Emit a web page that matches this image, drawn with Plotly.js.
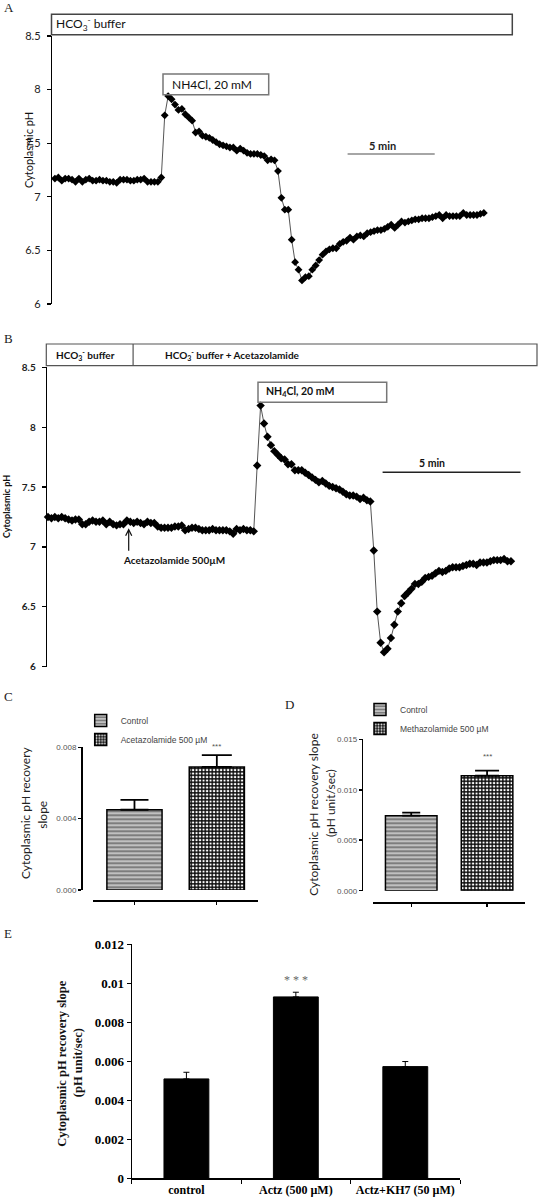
<!DOCTYPE html>
<html><head><meta charset="utf-8">
<script src="https://cdn.plot.ly/plotly-3.0.1.min.js"></script>
<style>html,body{margin:0;padding:0;background:#fff;}#chart{width:538px;height:1201px;}</style>
</head><body><div id="chart"></div>
<script>
// ---------- DATA ----------
// Panel A: cytoplasmic pH trace (HCO3- buffer), one sample per point
const phA = [7.17,7.18,7.15,7.17,7.17,7.16,7.14,7.17,7.14,7.16,7.17,7.15,7.15,7.16,7.15,7.15,7.14,7.14,7.13,7.16,7.16,7.16,7.15,7.15,7.16,7.16,7.17,7.14,7.14,7.14,7.14,7.18,
  7.76,7.94,7.91,7.86,7.81,7.82,7.77,7.74,7.71,7.60,7.61,7.57,7.56,7.55,7.53,7.51,7.49,7.48,7.47,7.46,7.46,7.43,7.45,7.43,7.41,7.40,7.40,7.40,7.39,7.38,7.34,7.35,7.34,
  7.24,6.99,6.88,6.88,6.60,6.39,6.32,6.22,6.25,6.26,6.32,6.36,6.41,6.46,6.49,6.51,6.52,6.52,6.56,6.58,6.59,6.62,6.60,6.63,6.64,6.63,6.66,6.67,6.68,6.69,6.69,6.70,6.72,6.74,6.71,6.74,6.77,6.76,6.77,6.78,6.79,6.79,6.80,6.80,6.80,6.81,6.82,6.83,6.80,6.83,6.82,6.82,6.82,6.82,6.85,6.83,6.83,6.83,6.83,6.84,6.85];
// Panel B: cytoplasmic pH trace (HCO3- buffer + Acetazolamide)
const phB = [7.25,7.24,7.25,7.24,7.25,7.24,7.23,7.22,7.23,7.23,7.19,7.19,7.21,7.22,7.21,7.21,7.22,7.19,7.21,7.19,7.18,7.19,7.19,7.22,7.21,7.20,7.21,7.20,7.19,7.21,7.20,7.20,7.17,7.16,7.16,7.16,7.16,7.17,7.17,7.18,7.14,7.15,7.16,7.16,7.15,7.14,7.14,7.14,7.15,7.14,7.14,7.14,7.14,7.13,7.11,7.15,7.14,7.15,7.14,7.14,7.13,
  7.68,8.18,8.03,7.92,7.85,7.80,7.77,7.74,7.73,7.69,7.69,7.64,7.64,7.64,7.62,7.60,7.58,7.56,7.54,7.55,7.53,7.51,7.50,7.49,7.48,7.46,7.44,7.43,7.43,7.42,7.40,7.41,7.39,7.38,
  6.97,6.46,6.20,6.12,6.15,6.24,6.35,6.46,6.53,6.59,6.62,6.65,6.69,6.69,6.71,6.74,6.75,6.76,6.78,6.80,6.79,6.80,6.82,6.83,6.83,6.83,6.84,6.85,6.86,6.86,6.85,6.87,6.87,6.87,6.88,6.89,6.89,6.89,6.90,6.88,6.88];
const phTicks = [6, 6.5, 7, 7.5, 8, 8.5];
// Panel C
const catsC = ['Control', 'Acetazolamide 500 µM'];
const valC = [0.0045, 0.0069];
const errC = [0.00055, 0.00066];
// Panel D
const catsD = ['Control', 'Methazolamide 500 µM'];
const valD = [0.00743, 0.01139];
const errD = [0.0003, 0.0005];
// Panel E
const catsE = ['control', 'Actz (500 µM)', 'Actz+KH7 (50 µM)'];
const valE = [0.00509, 0.00929, 0.00572];
const errE = [0.00034, 0.00024, 0.00026];
const errLowE = [0, 0, 0];

// ---------- LAYOUT HELPERS ----------
const W = 538, H = 1201;
const px = x => x / W, py = y => 1 - y / H;
const CAL = 'Lato';
const ann = (x, y, text, o = {}) => Object.assign({xref:'paper', yref:'paper', x:px(x), y:py(y), text, showarrow:false,
  xanchor:'left', yanchor:'middle', font:{family:CAL, size:11, color:'#111'}}, o);
const rect = (x0, y0, x1, y1, color, w) => ({type:'rect', xref:'paper', yref:'paper', x0:px(x0), x1:px(x1), y0:py(y1), y1:py(y0),
  line:{color, width:w}, fillcolor:'rgba(0,0,0,0)'});
const seg = (x0, y0, x1, y1, color, w) => ({type:'line', xref:'paper', yref:'paper', x0:px(x0), x1:px(x1), y0:py(y0), y1:py(y1),
  line:{color, width:w}});

const patCtrl = {shape:'-', fillmode:'replace', bgcolor:'#7d7d7d', fgcolor:'#eeeeee', size:4, solidity:0.3};
const patDrug = {shape:'.', fillmode:'replace', bgcolor:'#111111', fgcolor:'#ffffff', size:3.5, solidity:0.35};

const traces = [
  {type:'scatter', mode:'lines+markers', y:phA, xaxis:'x', yaxis:'y', showlegend:false, cliponaxis:false,
   line:{color:'#555', width:1}, marker:{symbol:'diamond', size:6, color:'#000'}},
  {type:'scatter', mode:'lines+markers', y:phB, xaxis:'x2', yaxis:'y2', showlegend:false, cliponaxis:false,
   line:{color:'#555', width:1}, marker:{symbol:'diamond', size:6.5, color:'#000'}},
  {type:'bar', x:[catsC[0]], y:[valC[0]], name:catsC[0], xaxis:'x3', yaxis:'y3', legend:'legend', width:0.67,
   marker:{color:'#7d7d7d', line:{color:'#000', width:1.5}, pattern:patCtrl},
   error_y:{type:'data', symmetric:false, array:[errC[0]], arrayminus:[0], color:'#000', thickness:1.8, width:14}},
  {type:'bar', x:[catsC[1]], y:[valC[1]], name:catsC[1], xaxis:'x3', yaxis:'y3', legend:'legend', width:0.67,
   marker:{color:'#111111', line:{color:'#000', width:1.5}, pattern:patDrug},
   error_y:{type:'data', symmetric:false, array:[errC[1]], arrayminus:[0], color:'#000', thickness:1.8, width:15}},
  {type:'bar', x:[catsD[0]], y:[valD[0]], name:catsD[0], xaxis:'x4', yaxis:'y4', legend:'legend2', width:0.68,
   marker:{color:'#7d7d7d', line:{color:'#000', width:1.5}, pattern:patCtrl},
   error_y:{type:'data', symmetric:false, array:[errD[0]], arrayminus:[0], color:'#000', thickness:1.8, width:9}},
  {type:'bar', x:[catsD[1]], y:[valD[1]], name:catsD[1], xaxis:'x4', yaxis:'y4', legend:'legend2', width:0.68,
   marker:{color:'#111111', line:{color:'#000', width:1.5}, pattern:patDrug},
   error_y:{type:'data', symmetric:false, array:[errD[1]], arrayminus:[0], color:'#000', thickness:1.8, width:12}},
  {type:'bar', x:catsE, y:valE, xaxis:'x5', yaxis:'y5', showlegend:false, width:0.41,
   marker:{color:'#000', line:{color:'#000', width:1}},
   error_y:{type:'data', symmetric:false, array:errE, arrayminus:errLowE, color:'#000', thickness:1, width:3}}
];

const noAx = {visible:false, showgrid:false, zeroline:false};
const phAxis = (dom, fontOpt) => ({domain:dom, range:[6, 8.5], tickvals:phTicks, showgrid:false, zeroline:false,
  showline:true, linecolor:'#000', linewidth:1.5, ticks:'outside', ticklen:4, tickwidth:1.2, tickcolor:'#000',
  tickfont:fontOpt, ticklabelstandoff:4});
const smallTick = {family:'Liberation Sans', size:8, color:'#555'};
const barY = (dom, pos, rng, dt) => ({domain:dom, range:rng, dtick:dt, tick0:0, tickformat:'.3f', anchor:'free', position:pos,
  showgrid:false, zeroline:false, showline:true, linecolor:'#000', linewidth:1.5, ticks:'outside', ticklen:3,
  tickwidth:1.5, tickcolor:'#000', tickfont:smallTick});
const barX = (dom, pos) => ({domain:dom, type:'category', range:[-0.5, 1.5], anchor:'free', position:pos,
  showgrid:false, zeroline:false, showline:true, linecolor:'#000', linewidth:1.5, ticks:'outside', ticklen:3,
  tickwidth:1.2, tickcolor:'#000', showticklabels:false});

const layout = {
  width:W, height:H, margin:{l:0, r:0, t:0, b:0}, paper_bgcolor:'#fff', plot_bgcolor:'rgba(0,0,0,0)',
  barmode:'overlay', showlegend:true, hovermode:false,
  xaxis:Object.assign({domain:[px(52.3), px(512)], range:[-0.76, 133.2]}, noAx),
  yaxis:Object.assign(phAxis([py(304), py(36)], {family:CAL, size:11, color:'#222'}), {anchor:'x'}),
  xaxis2:Object.assign({domain:[px(47.3), px(537)], range:[-0.2, 142.6]}, noAx),
  yaxis2:Object.assign(phAxis([py(666.7), py(367.3)], {family:CAL, size:10, color:'#222', weight:'bold'}), {anchor:'x2'}),
  xaxis3:barX([px(93.3), px(258)], py(900)),
  yaxis3:barY([py(890), py(747.3)], px(81), [0, 0.008], 0.004),
  xaxis4:barX([px(373.3), px(525)], py(902)),
  yaxis4:barY([py(890.7), py(739.3)], px(361.7), [0, 0.015], 0.005),
  xaxis5:{domain:[px(131.7), px(460)], anchor:'y5', type:'category', showgrid:false, zeroline:false, showline:true,
    linecolor:'#000', linewidth:1.2, ticks:'outside', tickson:'boundaries', ticklen:4, tickcolor:'#000',
    tickangle:0, automargin:false,
    tickfont:{family:'Liberation Serif', size:12, color:'#000', weight:'bold'}},
  yaxis5:{domain:[py(1178.3), py(944)], anchor:'x5', range:[0, 0.012], dtick:0.002, showgrid:false, zeroline:false,
    showline:true, linecolor:'#000', linewidth:1.2, ticks:'outside', ticklen:4, tickcolor:'#000',
    tickfont:{family:'Liberation Serif', size:13, color:'#000', weight:'bold'}},
  legend:{x:px(80.7), y:py(706), xanchor:'left', yanchor:'top', bgcolor:'rgba(0,0,0,0)', itemwidth:30,
    font:{family:'Liberation Sans', size:8.5, color:'#444'}, tracegroupgap:0},
  legend2:{x:px(360), y:py(695), xanchor:'left', yanchor:'top', bgcolor:'rgba(0,0,0,0)', itemwidth:30,
    font:{family:'Liberation Sans', size:8.5, color:'#444'}, tracegroupgap:0},
  shapes:[
    rect(51.5, 14.3, 512.3, 34.7, '#444', 1.5),
    rect(163, 74, 268.7, 94.7, '#777', 1.5),
    seg(347.6, 154, 434.7, 154, '#888', 1.5),
    rect(46.3, 344, 537, 365.7, '#555', 1.2),
    seg(133.1, 344, 133.1, 365.7, '#555', 1.2),
    rect(258, 382.3, 386.7, 402.3, '#777', 1.5),
    seg(382.6, 472.3, 520.5, 472.3, '#222', 1.5)
  ],
  annotations:[
    ann(2, 8, 'A', {font:{family:'Liberation Serif', size:13, color:'#222'}}),
    ann(2, 338, 'B', {font:{family:'Liberation Serif', size:13, color:'#222'}}),
    ann(2, 696, 'C', {font:{family:'Liberation Serif', size:13, color:'#222'}}),
    ann(283, 705, 'D', {font:{family:'Liberation Serif', size:13, color:'#222'}}),
    ann(2, 933, 'E', {font:{family:'Liberation Serif', size:13, color:'#222'}}),
    // Panel A
    ann(54, 24.5, 'HCO<sub>3</sub><sup>-</sup> buffer', {font:{family:CAL, size:12, color:'#111'}}),
    ann(170, 85, 'NH4Cl, 20 mM', {font:{family:CAL, size:12, color:'#111'}}),
    ann(382.6, 146, '5 min', {xanchor:'center', font:{family:CAL, size:11, color:'#222', weight:'bold'}}),
    ann(29, 150, 'Cytoplasmic pH', {xanchor:'center', textangle:-90, font:{family:CAL, size:11, color:'#111'}}),
    // Panel B
    ann(54, 355, 'HCO<sub>3</sub><sup>-</sup> buffer', {font:{family:CAL, size:10, color:'#111', weight:'bold'}}),
    ann(163, 355, 'HCO<sub>3</sub><sup>-</sup> buffer + Acetazolamide', {font:{family:CAL, size:10, color:'#111', weight:'bold'}}),
    ann(264, 392, 'NH<sub>4</sub>Cl, 20 mM', {font:{family:CAL, size:10.5, color:'#111', weight:'bold'}}),
    ann(431.6, 463.3, '5 min', {xanchor:'center', font:{family:CAL, size:10.5, color:'#111', weight:'bold'}}),
    ann(174, 560, 'Acetazolamide 500µM', {xanchor:'center', font:{family:CAL, size:10, color:'#111', weight:'bold'}}),
    {xref:'paper', yref:'paper', x:px(128.7), y:py(528.3), text:'', showarrow:true, ax:0, ay:24,
     arrowhead:5, arrowsize:1, arrowwidth:1.2, arrowcolor:'#111'},
    ann(7, 507, 'Cytoplasmic pH', {xanchor:'center', textangle:-90, font:{family:CAL, size:9, color:'#111', weight:'bold'}}),
    // Panel C
    ann(25, 813, 'Cytoplasmic pH recovery', {xanchor:'center', textangle:-90, font:{family:CAL, size:12, color:'#222'}}),
    ann(41.7, 815, 'slope', {xanchor:'center', textangle:-90, font:{family:CAL, size:12, color:'#222'}}),
    {xref:'x3', yref:'y3', x:catsC[1], y:valC[1] + errC[1], text:'***', showarrow:false, yanchor:'bottom', yshift:2,
     font:{family:'Liberation Sans', size:8, color:'#555'}},
    // Panel D
    ann(312.7, 815, 'Cytoplasmic pH recovery slope', {xanchor:'center', textangle:-90, font:{family:CAL, size:12, color:'#222'}}),
    ann(330, 803, '(pH unit/sec)', {xanchor:'center', textangle:-90, font:{family:CAL, size:12, color:'#222'}}),
    {xref:'x4', yref:'y4', x:catsD[1], y:valD[1] + errD[1], text:'***', showarrow:false, yanchor:'bottom', yshift:8,
     font:{family:'Liberation Sans', size:8, color:'#555'}},
    // Panel E
    ann(61.8, 1063, 'Cytoplasmic pH recovery slope', {xanchor:'center', textangle:-90, font:{family:'Liberation Serif', size:12.5, color:'#111', weight:'bold'}}),
    ann(78.2, 1063, '(pH unit/sec)', {xanchor:'center', textangle:-90, font:{family:'Liberation Serif', size:12.5, color:'#111', weight:'bold'}}),
    {xref:'x5', yref:'y5', x:catsE[1], y:valE[1] + errE[1], text:'* * *', showarrow:false, yanchor:'bottom', yshift:3,
     font:{family:'Liberation Serif', size:12, color:'#666'}}
  ]
};

Plotly.newPlot('chart', traces, layout, {staticPlot:true, displayModeBar:false});
</script>
</body></html>
